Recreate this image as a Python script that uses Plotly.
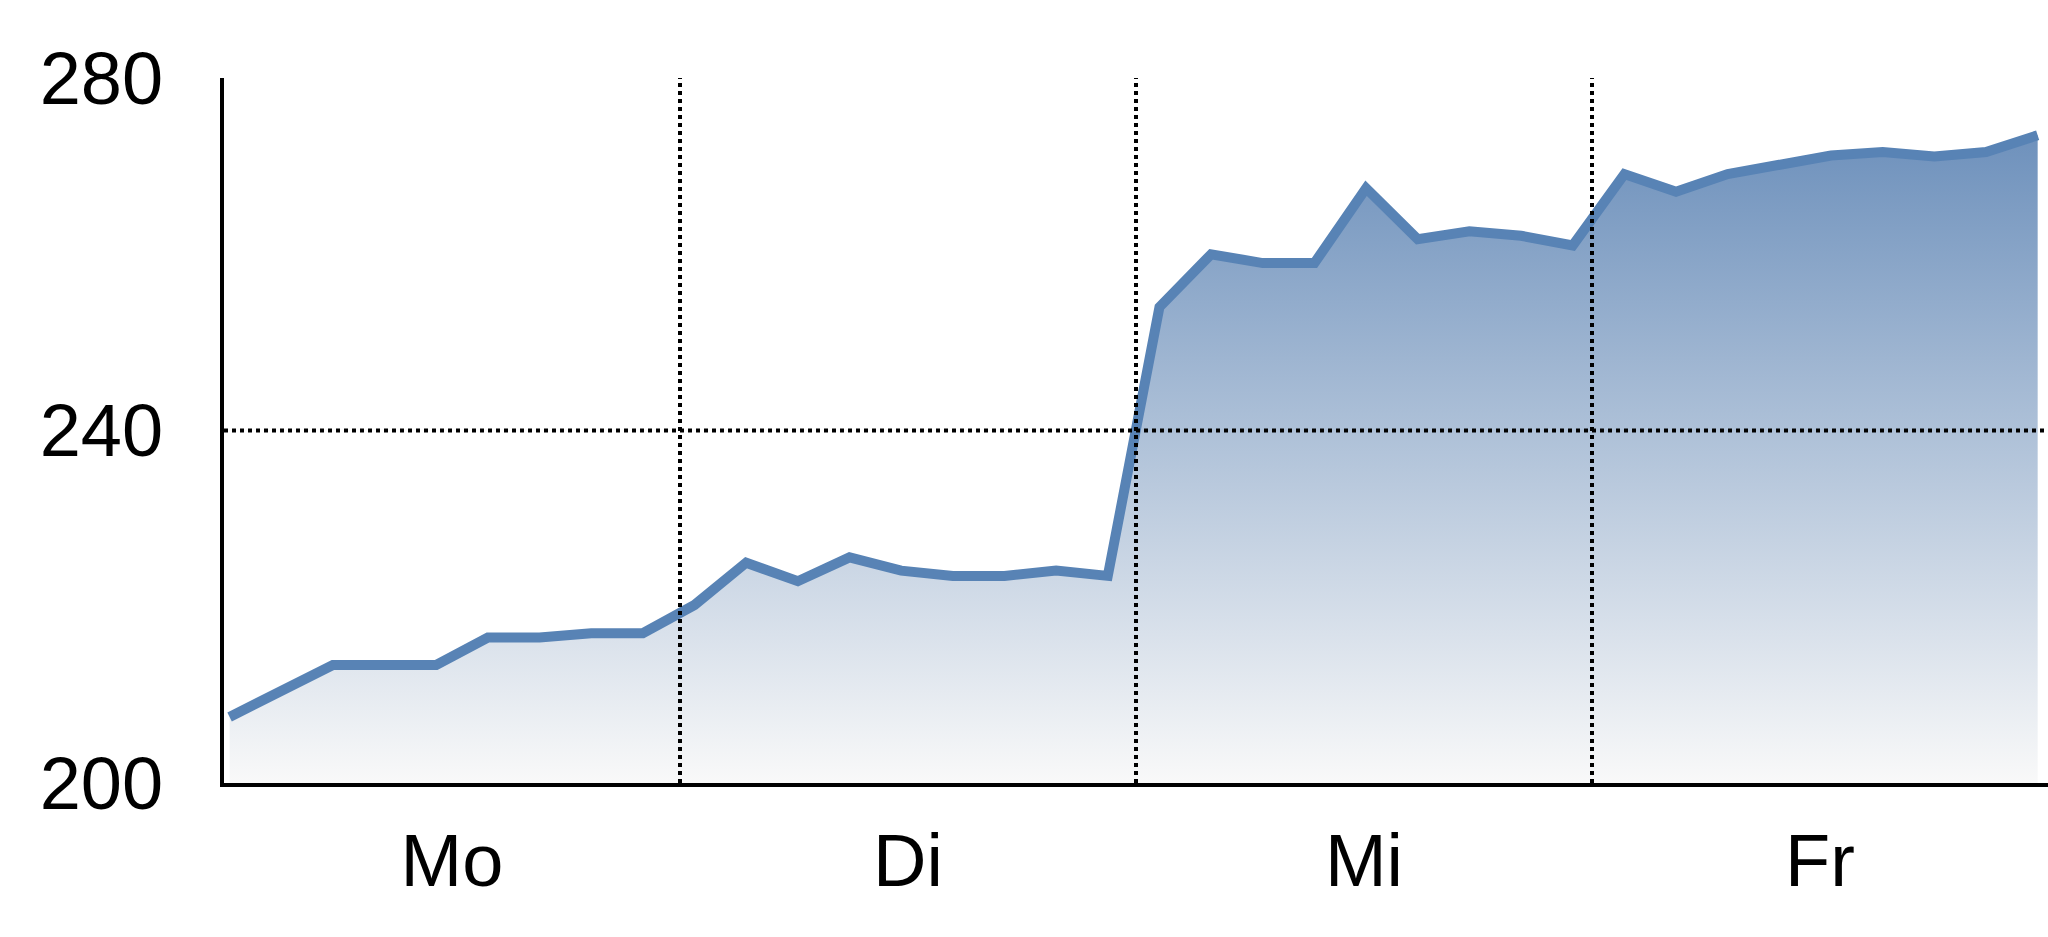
import plotly.graph_objects as go

# ---- data ----
days = ["Mo", "Di", "Mi", "Fr"]
values = [
    207.5, 210.5, 213.4, 213.4, 213.4, 216.5, 216.5, 217.0, 217.0,
    220.2, 225.0, 222.9, 225.6, 224.1, 223.5, 223.5, 224.1, 223.5,
    254.0, 260.0, 259.0, 259.0, 267.5, 261.7, 262.6, 262.1, 261.0,
    269.1, 267.1, 269.1, 270.1, 271.2, 271.6, 271.1, 271.6, 273.5,
]
y_ticks = [200, 240, 280]
y_grid = [240]

FONT = "Liberation Sans Narrow, Arial Narrow, Liberation Sans, Arial, sans-serif"
LINE_COLOR = "#5883b5"
DOT = "4px,4px"

idx = list(range(len(values)))

fig = go.Figure()

# invisible trace registering the day categories on the label axis
fig.add_trace(go.Scatter(x=days, y=[None] * len(days), xaxis="x", yaxis="y",
                         mode="lines", showlegend=False, hoverinfo="skip"))

fig.add_trace(go.Scatter(
    x=idx, y=values, xaxis="x2", yaxis="y",
    mode="lines",
    line=dict(color=LINE_COLOR, width=10),
    fill="tozeroy",
    fillgradient=dict(type="vertical",
                      colorscale=[[0, "rgb(249,249,249)"], [1, "rgb(110,145,188)"]],
                      start=200, stop=max(values)),
    showlegend=False, hoverinfo="skip",
))

# dotted grid lines on top of the area: day boundaries and y grid values
shapes = []
for i in range(len(days) - 1):
    shapes.append(dict(type="line", xref="x", yref="paper", x0=i + 0.5, x1=i + 0.5,
                       y0=0, y1=1, layer="above",
                       line=dict(color="black", width=4, dash=DOT)))
for g in y_grid:
    shapes.append(dict(type="line", xref="paper", yref="y", x0=0, x1=1,
                       y0=g, y1=g, layer="above",
                       line=dict(color="black", width=4, dash=DOT)))

fig.update_layout(
    width=2048, height=937,
    margin=dict(l=224, r=0, t=78, b=154),
    paper_bgcolor="white", plot_bgcolor="white",
    font=dict(family=FONT, color="black", size=74),
    shapes=shapes,
    hovermode=False,
    xaxis=dict(type="category", categoryorder="array", categoryarray=days,
               range=[-0.5, len(days) - 0.5], showgrid=False, zeroline=False,
               showline=True, linecolor="black", linewidth=4,
               ticks="", ticklabelstandoff=10,
               tickfont=dict(family=FONT, size=74, color="black")),
    xaxis2=dict(overlaying="x", range=[-0.108, len(values) - 1 + 0.2],
                visible=False, showgrid=False, zeroline=False),
    yaxis=dict(range=[y_ticks[0], y_ticks[-1]], tickvals=y_ticks,
               showgrid=False, zeroline=False,
               showline=True, linecolor="black", linewidth=4,
               ticks="", ticklabelstandoff=42,
               tickfont=dict(family=FONT, size=74, color="black")),
)

fig.write_html("out.html",
               config={"displayModeBar": False, "staticPlot": True},
               post_script="document.body.style.margin='0';document.body.style.overflow='hidden';")
